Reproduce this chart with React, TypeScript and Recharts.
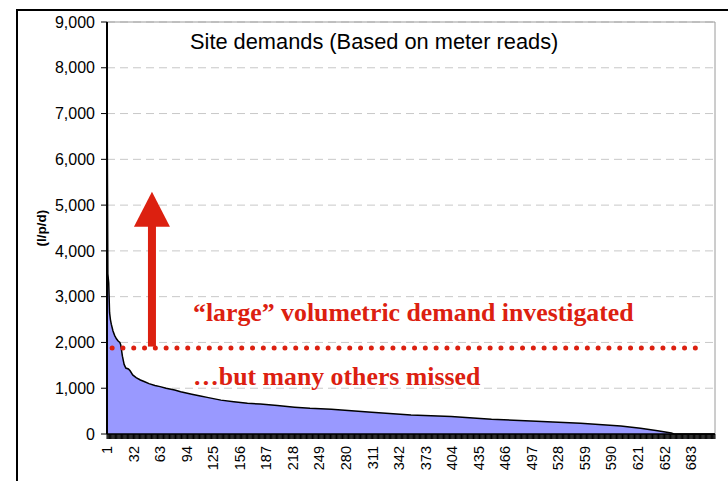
import {
  AreaChart,
  Area,
  XAxis,
  YAxis,
  CartesianGrid,
  ReferenceLine,
  Customized,
} from 'recharts'

// site rank (sorted by demand) and demand in l/p/d
const SITE_RANK = [
  1, 2, 3, 4, 5, 6, 8, 10, 12, 14, 16, 17, 19, 21, 23, 26, 28, 31, 35, 40, 45, 50, 57, 63, 70, 80, 87,
  100, 110, 118, 134, 149, 165, 180, 200, 220, 238, 263, 310, 356, 403, 437, 450, 496, 554, 601, 624,
  644, 660, 663, 711,
]
const DEMAND = [
  7900, 3500, 3300, 2650, 2500, 2400, 2250, 2150, 2080, 2030, 2000, 1950, 1700, 1520, 1440, 1420, 1380,
  1290, 1230, 1180, 1140, 1100, 1060, 1035, 1000, 960, 925, 870, 830, 800, 740, 705, 670, 655, 620, 585,
  560, 540, 475, 415, 380, 340, 320, 285, 235, 175, 125, 70, 20, 0, 0,
]

const X_LABELS = [
  1, 32, 63, 94, 125, 156, 187, 218, 249, 280, 311, 342, 373, 404, 435, 466, 497, 528, 559, 590, 621,
  652, 683,
]
const Y_TICKS = [0, 1000, 2000, 3000, 4000, 5000, 6000, 7000, 8000, 9000]
const SITE_COUNT = 711

const THRESHOLD = 1880
const THRESHOLD_FROM = 7
const THRESHOLD_TO = 690
const ARROW_AT = 53.5
const ARROW_TOP = 5290

const data = SITE_RANK.map((rank, i) => ({ rank, demand: DEMAND[i] }))
// one tick mark per site, as in the original category axis
const ALL_SITES = Array.from({ length: SITE_COUNT }, (_, k) => k + 1)

const RED = '#dc2010'
const SANS = '"Liberation Sans", Arial, sans-serif'
const SERIF = '"Liberation Serif", "Times New Roman", serif'

function SiteTick({ x, y, payload }: any) {
  if (!X_LABELS.includes(payload.value)) return <g />
  return (
    <text
      x={x}
      y={y}
      dy="0.35em"
      textAnchor="end"
      transform={`rotate(-90, ${x}, ${y})`}
      fontSize={14.5}
      fontFamily={SANS}
      fill="#000"
    >
      {payload.value}
    </text>
  )
}

function Arrow({ x1, y1, x2, y2 }: any) {
  const cx = (x1 + x2) / 2
  const top = Math.min(y1, y2)
  const bottom = Math.max(y1, y2)
  const headH = 35
  const headW = 36
  return (
    <g fill={RED}>
      <rect x={cx - 4} y={top + headH - 1} width={8} height={bottom - top - headH + 1} />
      <polygon points={`${cx},${top} ${cx - headW / 2},${top + headH} ${cx + headW / 2},${top + headH}`} />
    </g>
  )
}

function Annotations() {
  return (
    <g>
      <text x={190} y={49} fontSize={21.8} fontFamily={SANS} fill="#000">
        Site demands (Based on meter reads)
      </text>
      <text
        x={41}
        y={228}
        transform="rotate(-90, 41, 228)"
        textAnchor="middle"
        dy="0.35em"
        fontSize={13.5}
        fontWeight="bold"
        fontFamily={SANS}
        fill="#000"
      >
        (l/p/d)
      </text>
      <text x={193} y={321} fontSize={25.8} fontWeight="bold" fontFamily={SERIF} fill={RED}>
        “large” volumetric demand investigated
      </text>
      <text x={193} y={385} fontSize={25.8} fontWeight="bold" fontFamily={SERIF} fill={RED}>
        …but many others missed
      </text>
    </g>
  )
}

export default function App() {
  return (
    <div style={{ position: 'fixed', left: 0, top: 0, width: 728, height: 481, background: '#fff' }}>
      <AreaChart width={728} height={481} data={data} margin={{ top: 22, right: 13, left: 0, bottom: 0 }}>
        <CartesianGrid vertical={false} stroke="#c8c8c8" strokeDasharray="8 5" />
        <XAxis
          dataKey="rank"
          type="number"
          domain={[1, SITE_COUNT]}
          ticks={ALL_SITES}
          interval={0}
          height={47}
          tick={<SiteTick />}
          tickSize={5}
          tickMargin={7}
          tickLine={{ stroke: '#000' }}
          axisLine={{ stroke: '#000', strokeWidth: 1.5 }}
        />
        <YAxis
          type="number"
          domain={[0, 9000]}
          ticks={Y_TICKS}
          width={107}
          tickSize={6}
          tickMargin={6}
          tickFormatter={(v: number) => v.toLocaleString('en-US')}
          tick={{ fontSize: 16, fontFamily: SANS, fill: '#000' }}
          tickLine={{ stroke: '#000' }}
          axisLine={{ stroke: '#000', strokeWidth: 2 }}
        />
        <ReferenceLine y={9000} stroke="#9a9a9a" strokeWidth={1} />
        <ReferenceLine x={SITE_COUNT} stroke="#9a9a9a" strokeWidth={1} />
        <Area
          type="linear"
          dataKey="demand"
          stroke="#000"
          strokeWidth={1.5}
          fill="#9999ff"
          fillOpacity={1}
          isAnimationActive={false}
        />
        <ReferenceLine
          segment={[
            { x: THRESHOLD_FROM, y: THRESHOLD },
            { x: THRESHOLD_TO, y: THRESHOLD },
          ]}
          stroke={RED}
          strokeWidth={5}
          strokeDasharray="0 10.8"
          strokeLinecap="round"
        />
        <ReferenceLine
          segment={[
            { x: ARROW_AT, y: ARROW_TOP },
            { x: ARROW_AT, y: THRESHOLD + 30 },
          ]}
          shape={<Arrow />}
        />
        <Customized component={<Annotations />} />
      </AreaChart>
      <div
        style={{
          position: 'fixed',
          left: 16,
          top: 9,
          width: 800,
          height: 600,
          border: '2px solid #000',
          pointerEvents: 'none',
        }}
      />
    </div>
  )
}
